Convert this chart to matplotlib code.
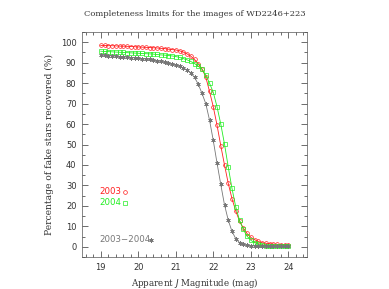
import numpy as np
import matplotlib
matplotlib.use("Agg")
import matplotlib.pyplot as plt
from matplotlib.ticker import MultipleLocator

# Magnitudes (0.1 mag steps from 19.0 to 24.0)
mag = [round(19.0 + 0.1 * i, 1) for i in range(51)]

red_2003 = [98.4, 98.4, 98.3, 98.3, 98.2, 98.1, 98.1, 98.0, 97.9, 97.8,
            97.7, 97.6, 97.5, 97.4, 97.3, 97.2, 97.0, 96.9, 96.6, 96.4,
            96.2, 95.8, 95.2, 94.3, 93.2, 91.6, 89.5, 87.0, 83.0, 76.0,
            68.5, 59.5, 49.5, 40.0, 31.0, 23.5, 17.5, 12.6, 9.2, 6.5,
            4.6, 3.5, 2.6, 2.0, 1.7, 1.5, 1.3, 1.2, 1.1, 1.0, 1.0]

green_2004 = [95.6, 95.5, 95.4, 95.3, 95.2, 95.1, 95.0, 94.9, 94.8, 94.7,
              94.6, 94.5, 94.4, 94.3, 94.2, 94.0, 93.8, 93.7, 93.5, 93.3,
              93.0, 92.6, 92.0, 91.4, 90.6, 89.6, 88.3, 86.7, 84.0, 80.0,
              75.5, 68.5, 60.0, 50.2, 39.0, 28.5, 19.5, 13.0, 8.5, 5.2,
              3.2, 2.0, 1.3, 0.9, 0.6, 0.5, 0.4, 0.4, 0.4, 0.4, 0.4]

gray_all = [93.7, 93.6, 93.5, 93.3, 93.2, 93.0, 92.9, 92.7, 92.5, 92.4,
            92.2, 92.0, 91.8, 91.6, 91.3, 91.0, 90.6, 90.2, 89.8, 89.4,
            89.0, 88.3, 87.5, 86.4, 85.0, 82.8, 79.5, 75.0, 70.0, 62.0,
            52.0, 41.0, 30.5, 20.5, 13.0, 7.5, 4.0, 2.0, 1.2, 0.7,
            0.5, 0.4, 0.3, 0.3, 0.3, 0.2, 0.2, 0.2, 0.2, 0.2, 0.2]

title = "Completeness limits for the images of WD2246+223"
xlabel = "Apparent $\\it{J}$ Magnitude (mag)"
ylabel = "Percentage of fake stars recovered (%)"
labels = ["2003", "2004", "2003\u22122004"]

RED = "#ff2020"
GREEN = "#22ee22"
GRAY = "#777777"

fig = plt.figure(figsize=(3.89, 2.89), dpi=100)
ax = fig.add_axes([82 / 389, 1 - 257 / 289, 225 / 389, 225 / 289])

ms_c, ms_s, ms_a = 2.7, 2.6, 3.2
ax.plot(mag, red_2003, color=RED, lw=0.6, marker="o", ms=ms_c, mfc="none",
        mec=RED, mew=0.5)
ax.plot(mag, green_2004, color=GREEN, lw=0.6, marker="s", ms=ms_s, mfc="none",
        mec=GREEN, mew=0.5)
ax.plot(mag, gray_all, color=GRAY, lw=0.6, marker=(6, 2, 0), ms=ms_a,
        mec=GRAY, mew=0.5)

ax.set_xlim(18.5, 24.5)
ax.set_ylim(-5, 105)
ax.xaxis.set_major_locator(MultipleLocator(1))
ax.xaxis.set_minor_locator(MultipleLocator(0.2))
ax.yaxis.set_major_locator(MultipleLocator(10))
ax.yaxis.set_minor_locator(MultipleLocator(5))
ax.tick_params(which="both", direction="in", top=True, right=True,
               labelsize=6, colors="#333333", width=0.5)
ax.tick_params(which="major", length=4, pad=4)
ax.tick_params(which="minor", length=2)
for s in ax.spines.values():
    s.set_linewidth(0.5)
    s.set_color("#555555")

fam = "DejaVu Serif"
fig.text(194.5 / 389, 1 - 14 / 289, title, ha="center", va="center",
         fontsize=6.0, family=fam, color="#333333")
ax.set_xlabel(xlabel, fontsize=6.3, family=fam, color="#333333", labelpad=3)
ax.set_ylabel(ylabel, fontsize=6.6, family=fam, color="#333333", labelpad=5)

# legend text
ax.text(18.97, 27, labels[0], color=RED, fontsize=6.2, va="center", ha="left")
ax.plot([19.65], [27], marker="o", ms=ms_c, mfc="none", mec=RED, mew=0.5)
ax.text(18.97, 21.5, labels[1], color=GREEN, fontsize=6.2, va="center", ha="left")
ax.plot([19.65], [21.5], marker="s", ms=ms_s, mfc="none", mec=GREEN, mew=0.5)
ax.text(18.97, 3.5, labels[2], color=GRAY, fontsize=6.2, va="center", ha="left")
ax.plot([20.33], [3.5], marker=(6, 2, 0), ms=ms_a, mec=GRAY, mew=0.5)

fig.savefig("out.png", dpi=100)
